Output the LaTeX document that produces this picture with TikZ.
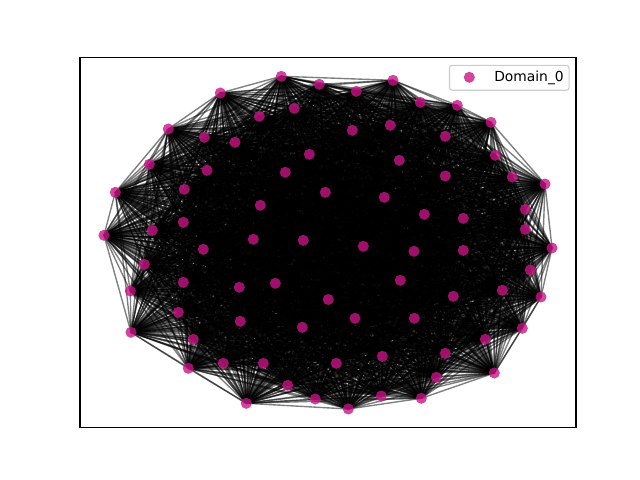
\documentclass[tikz,border=0pt]{standalone}
\usepackage{fontspec}
\setmainfont{DejaVu Sans}
\usetikzlibrary{backgrounds}
\definecolor{mvr}{RGB}{199,21,133}
\definecolor{legedge}{RGB}{204,204,204}
\tikzset{
  vtx/.style={circle, fill=mvr, fill opacity=0.8, draw=none, minimum size=8pt, inner sep=0pt},
  lnk/.style={draw=black, opacity=0.5, line width=1pt},
  legbox/.style={draw=legedge, line width=0.8pt, rounded corners=2pt, fill=white, fill opacity=0.8, minimum width=86.4pt, minimum height=18pt, inner sep=0pt},
  frame/.style={draw=black, line width=0.8pt}
}
\begin{document}
\begin{tikzpicture}[x=0.01in, y=-0.01in]
\useasboundingbox (0,0) rectangle (640,480);
\foreach \n/\px/\py in {
1/220.3/93, 2/168.3/129, 3/204.3/137.3, 4/235/142.3, 5/149.3/164.3, 6/207/170.3,
7/184.3/189.3, 8/115.3/192.3, 9/281.3/76.3, 10/319.3/84.3, 11/356.3/91.3, 12/393/80.3,
13/294.3/108.3, 14/259.3/116.3, 15/352.3/130.3, 16/390.3/125.3, 17/309.3/154.3, 18/285.3/172.3,
19/399.3/160.3, 20/325.3/192.3, 21/420.3/102.3, 22/457.3/105.3, 23/491/122.3, 24/445.3/136.3,
25/495.3/155.3, 26/445.3/176, 27/512.3/177, 28/545/184, 29/183.3/222.3, 30/152.3/230.3,
31/104/235.3, 32/203.3/249.3, 33/144.3/264.3, 34/183.3/282.3, 35/239.3/287.3, 36/130.3/291,
37/178.3/312.3, 38/260.3/205.3, 39/384.3/197.3, 40/253.3/239.3, 41/303.3/240.3, 42/363.3/246.3,
43/414/251.3, 44/275.3/283.3, 45/328.3/299.5, 46/400.3/280.3, 47/424.3/214.3, 48/463.3/218.3,
49/525.3/209.3, 50/525.3/229.3, 51/552/248, 52/463.3/250.3, 53/530.3/270, 54/502.3/290.3,
55/453.3/296.3, 56/541/297, 57/240.3/321.3, 58/131/332.3, 59/193.3/339.3, 60/223.3/363.3,
61/188.3/368.3, 62/246.3/403.3, 63/355/318.3, 64/302.3/327.3, 65/263.3/363.3, 66/336.3/363.3,
67/382.3/356.3, 68/287.7/385.3, 69/315.3/399, 70/348.3/409, 71/381.3/396, 72/414.3/318.3,
73/522.3/328.3, 74/485.3/339.3, 75/445.3/353.3, 76/494.3/373, 77/436.3/377.3, 78/421.3/398.3}
  \node[vtx] (n\n) at (\px,\py) {};
\begin{scope}[on background layer]
\foreach \i in {1,...,77} {
  \pgfmathtruncatemacro\nxt{\i+1}
  \foreach \j in {\nxt,...,78} {
    \draw[lnk] (n\i.center) -- (n\j.center);
  }
}
\end{scope}
\draw[frame] (80,57.6) rectangle (576,427.2);
\node[legbox] (leg) at (509.3,77.8) {};
\node[circle, fill=mvr, fill opacity=0.8, minimum size=8pt, inner sep=0pt] (legdot) at (469.3,77.3) {};
\node[anchor=base west, inner sep=0pt, font=\fontsize{10pt}{12pt}\selectfont] (legtext) at (494,81.3) {Domain\_0};
\end{tikzpicture}
\end{document}
